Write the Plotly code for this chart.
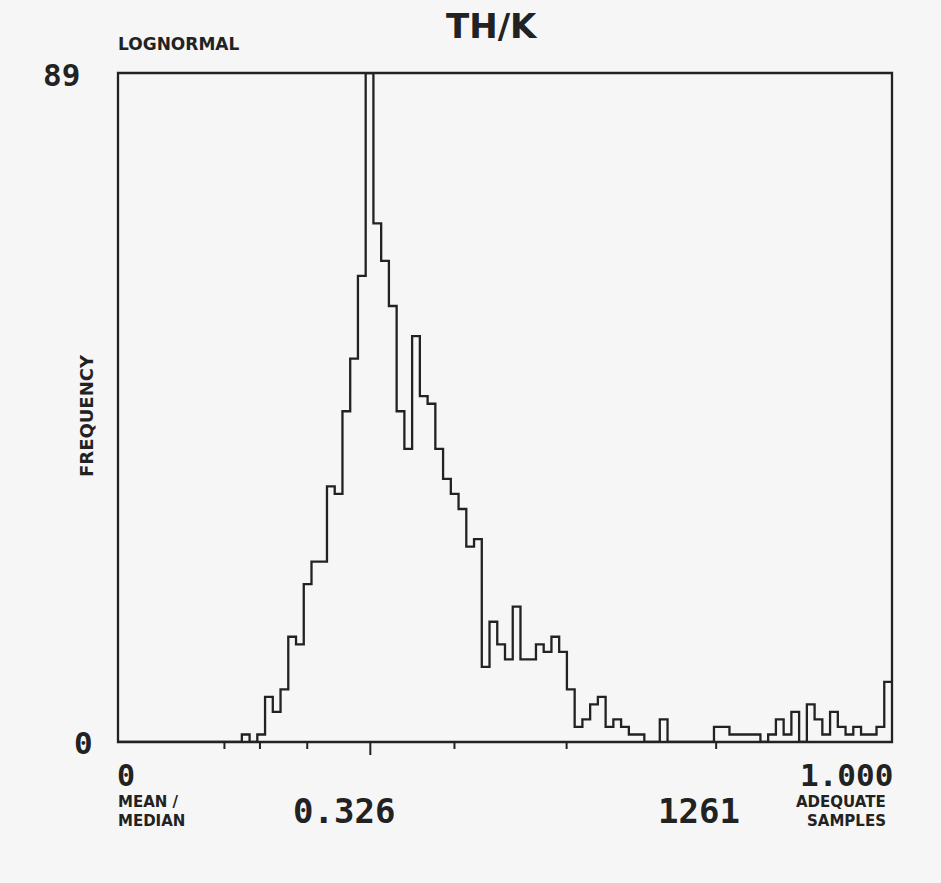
import plotly.graph_objects as go

# Frequency histogram of the ratio, 100 equal bins over 0 .. 1.000
bin_start = 0.0
bin_width = 0.01
counts = [
    0, 0, 0, 0, 0, 0, 0, 0, 0, 0,
    0, 0, 0, 0, 0, 0, 1, 0, 1, 6,
    4, 7, 14, 13, 21, 24, 24, 34, 33, 44,
    51, 62, 89, 69, 64, 58, 44, 39, 54, 46,
    45, 39, 35, 33, 31, 26, 27, 10, 16, 13,
    11, 18, 11, 11, 13, 12, 14, 12, 7, 2,
    3, 5, 6, 2, 3, 2, 1, 1, 0, 0,
    3, 0, 0, 0, 0, 0, 0, 2, 2, 1,
    1, 1, 1, 0, 1, 3, 1, 4, 0, 5,
    3, 1, 4, 2, 1, 2, 1, 1, 2, 8,
]

y_max = 89
mean_median = 0.326
n_samples = 1261
# Tick marks along the ratio axis (the long one marks mean / median)
minor_ticks = [0.1375, 0.1834, 0.2445, 0.4347, 0.5796, 0.7728]
major_ticks = [mean_median]

edges = [bin_start + i * bin_width for i in range(len(counts) + 1)]
step_y = counts + [counts[-1]]

W, H = 941, 883
L, R, T, B = 118, 49, 73, 141
plot_w = W - L - R
plot_h = H - T - B

ink = "#222222"
paper_bg = "#f6f6f6"
word_font = "DejaVu Sans"
num_font = "DejaVu Sans Mono"


def px(x):
    return (x - L) / plot_w


def py(y):
    return (H - B - y) / plot_h


fig = go.Figure()
fig.add_trace(go.Scatter(
    x=edges, y=step_y, mode="lines", line_shape="hv",
    line=dict(color=ink, width=2.3), hoverinfo="skip", showlegend=False,
))

shapes = [dict(type="rect", xref="paper", yref="paper", x0=0, x1=1, y0=0, y1=1,
               line=dict(color=ink, width=2.3), layer="above")]
for t in minor_ticks:
    shapes.append(dict(type="line", xref="x", yref="paper", x0=t, x1=t,
                       y0=0, y1=-7 / plot_h, line=dict(color=ink, width=2)))
for t in major_ticks:
    shapes.append(dict(type="line", xref="x", yref="paper", x0=t, x1=t,
                       y0=0, y1=-13 / plot_h, line=dict(color=ink, width=2)))


def label(text, x, y, size, family=word_font, weight="bold",
          xanchor="center", yanchor="middle", angle=0):
    return dict(text=text, x=px(x), y=py(y), xref="paper", yref="paper",
                xanchor=xanchor, yanchor=yanchor, showarrow=False, textangle=angle,
                font=dict(family=family, size=size, color=ink, weight=weight))


annotations = [
    label("TH/K", 492, 26, 34),
    label("LOGNORMAL", 116, 44, 17, xanchor="left"),
    label(str(y_max), 82, 75, 31, family=num_font, xanchor="right"),
    label("0", 95, 743, 31, family=num_font, xanchor="right"),
    label("FREQUENCY", 86, 416, 18, angle=-90),
    label("0", 115, 775, 30, family=num_font, xanchor="left"),
    label(f"{1:.3f}", 895, 775, 31, family=num_font, xanchor="right"),
    label("MEAN /", 116, 802, 15, xanchor="left"),
    label("MEDIAN", 116, 821, 15, xanchor="left"),
    label(f"{mean_median:.3f}", 344, 811, 34, family=num_font),
    label(str(n_samples), 742, 811, 34, family=num_font, xanchor="right"),
    label("ADEQUATE", 888, 802, 15, xanchor="right"),
    label("SAMPLES", 888, 821, 15, xanchor="right"),
]

fig.update_layout(
    width=W, height=H,
    margin=dict(l=L, r=R, t=T, b=B, pad=0),
    paper_bgcolor=paper_bg, plot_bgcolor=paper_bg,
    xaxis=dict(range=[0, 1], showgrid=False, zeroline=False, showticklabels=False,
               ticks="", showline=False, fixedrange=True),
    yaxis=dict(range=[0, y_max], showgrid=False, zeroline=False, showticklabels=False,
               ticks="", showline=False, fixedrange=True),
    shapes=shapes, annotations=annotations,
)

fig.write_html("out.html")
